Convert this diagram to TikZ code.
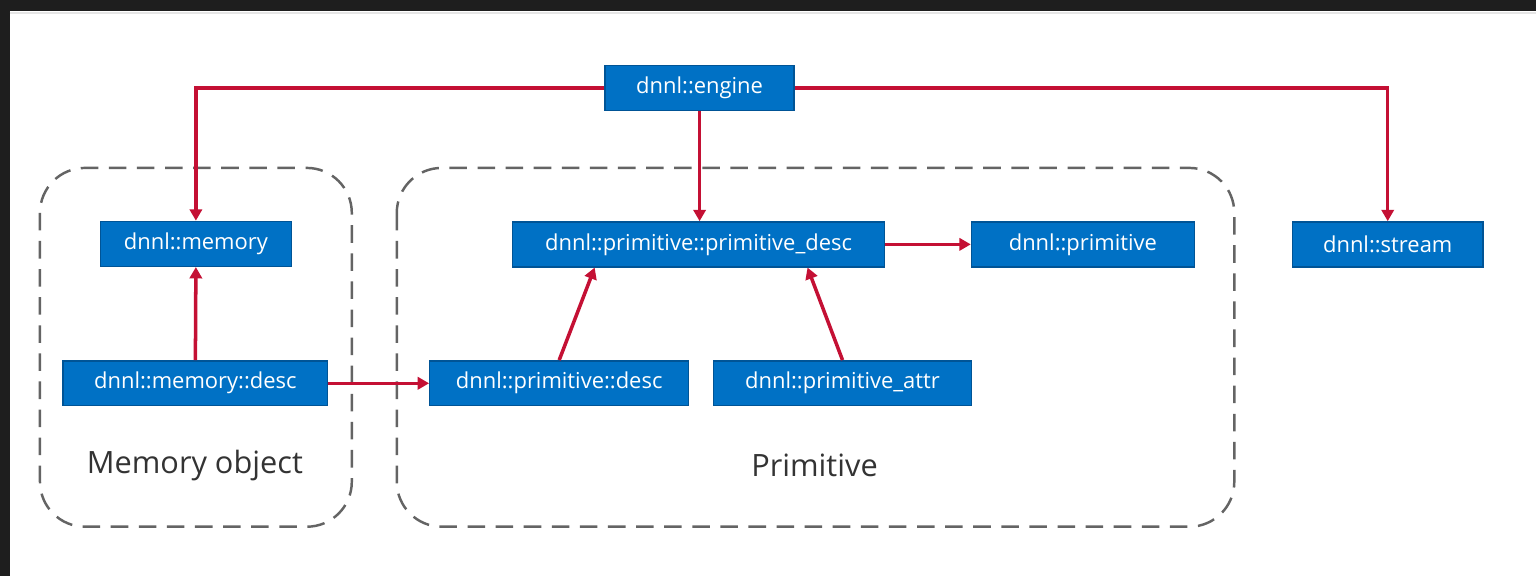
\documentclass[tikz,border=0pt]{standalone}
\usepackage{fontspec}
\setmainfont{Open Sans}
\usetikzlibrary{arrows.meta,calc}
\definecolor{boxblue}{RGB}{0,113,197}
\definecolor{boxedge}{RGB}{0,84,150}
\definecolor{linkred}{RGB}{196,16,52}
\definecolor{groupgray}{RGB}{100,100,100}
\definecolor{frame}{RGB}{30,30,30}
\tikzset{
  obj/.style={draw=boxedge, line width=0.8pt, fill=boxblue, text=white,
    minimum height=0.9cm, inner sep=0pt,
    font=\fontsize{12.5}{14}\selectfont},
  link/.style={draw=linkred, line width=2pt,
    -{Triangle[length=6.5pt,width=7pt]}},
  grp/.style={draw=groupgray, line width=1.4pt, dash pattern=on 10pt off 6pt,
    rounded corners=0.9cm},
  grplabel/.style={text=black!80, font=\fontsize{17.5}{20}\selectfont}
}
\begin{document}
\begin{tikzpicture}[x=0.02cm,y=-0.02cm]
\fill[frame] (0,0) rectangle (1537,576);
\fill[white] (10,11) rectangle (1537,576);
\draw[black!10, line width=1pt] (10,13) -- (1537,13);
\useasboundingbox (0,0) rectangle (1537,576);

% groups
\draw[grp] (40,168) rectangle (352,527);
\draw[grp] (397,168) rectangle (1235,527);
\node[grplabel] (lmem) at (195,466) {Memory object};
\node[grplabel] (lprim) at (815,466) {Primitive};

% objects
\node[obj, minimum width=3.78cm] (eng) at (700,88) {dnnl::engine};
\node[obj, minimum width=3.82cm] (mem) at (196,244) {dnnl::memory};
\node[obj, minimum width=5.30cm] (mdesc) at (195.5,383.5) {dnnl::memory::desc};
\node[obj, minimum width=7.44cm] (pd) at (699,244.5) {dnnl::primitive::primitive\_desc};
\node[obj, minimum width=4.46cm] (prim) at (1083.5,244.5) {dnnl::primitive};
\node[obj, minimum width=3.82cm] (strm) at (1388.5,244.5) {dnnl::stream};
\node[obj, minimum width=5.18cm] (pdesc) at (559.5,383.5) {dnnl::primitive::desc};
\node[obj, minimum width=5.16cm] (attr) at (843,383.5) {dnnl::primitive\_attr};

% connectors
\draw[link] (eng.west) -| (mem.north);
\draw[link] (eng.east) -| (strm.north);
\draw[link] (eng.south) -- (eng.south |- pd.north);
\draw[link] (mdesc.north) -- (mem.south);
\draw[link] (mdesc.east) -- (pdesc.west);
\draw[link] (pd.east) -- (prim.west);
\draw[link] (pdesc.north) -- ([xshift=-2.08cm]pd.south);
\draw[link] (attr.north) -- ([xshift=2.18cm]pd.south);
\end{tikzpicture}
\end{document}
